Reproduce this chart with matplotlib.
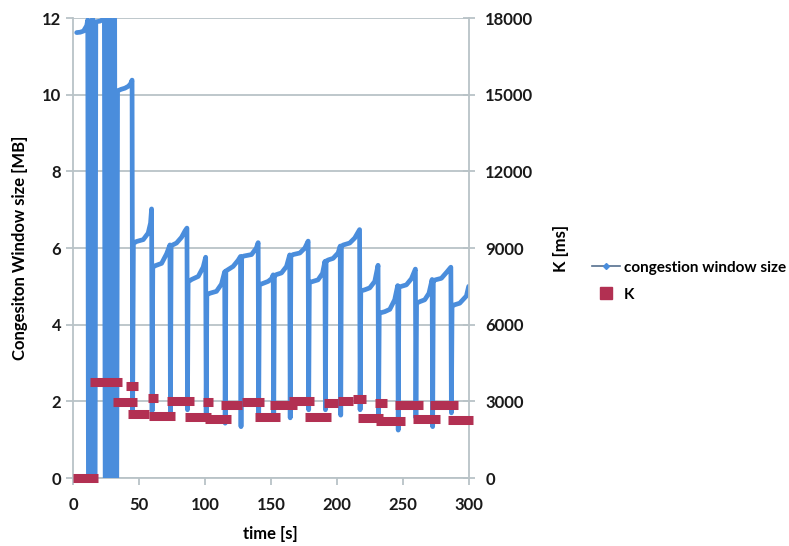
import matplotlib
matplotlib.use("Agg")
import matplotlib.pyplot as plt
from matplotlib.lines import Line2D

plt.rcParams['font.family'] = ['Lato', 'DejaVu Sans']
plt.rcParams['font.weight'] = 'bold'

# congestion window samples: time [s] and size [MB]
cwnd_t = [
    2.8, 5.5, 8.0, 10.4, 11.2, 11.7, 13.0, 13.6, 15.0, 15.6, 16.8, 17.3,
    20.5, 23.8, 24.4, 25.8, 26.4, 27.8, 28.4, 29.8, 30.4, 31.6, 32.1, 33.2,
    33.8, 36.5, 39.4, 42.0, 43.6, 44.8, 45.2,
    45.8, 48.2, 53.3, 57.0, 58.8, 59.6, 60.0,
    60.5, 62.5, 67.2, 71.0, 73.5, 73.9,
    74.4, 78.5, 82.3, 85.0, 86.4, 86.8,
    87.3, 90.0, 95.0, 98.7, 100.6, 101.0,
    101.5, 103.8, 108.8, 112.6, 115.0, 115.4,
    115.9, 117.7, 121.4, 125.2, 127.0, 127.4,
    127.9, 129.5, 135.4, 139.0, 140.4, 140.8,
    141.3, 144.2, 148.0, 150.5, 151.8, 152.2,
    152.7, 154.5, 158.1, 161.9, 164.3, 164.7,
    165.2, 167.0, 172.0, 175.8, 178.3, 178.7,
    179.2, 182.0, 185.8, 189.2, 191.0, 191.4,
    191.9, 193.6, 197.2, 201.0, 202.6, 203.0,
    203.5, 205.0, 209.8, 213.6, 217.3, 217.7,
    218.2, 221.2, 225.0, 228.8, 231.3, 231.7,
    232.2, 236.4, 240.2, 243.9, 246.2, 246.6,
    247.1, 249.0, 252.8, 256.6, 259.6, 260.0,
    260.5, 262.9, 266.7, 269.9, 272.3, 272.7,
    273.2, 274.8, 279.3, 283.6, 286.5, 286.9,
    287.4, 289.4, 293.2, 298.3, 300.0,
]
cwnd_mb = [
    11.62, 11.63, 11.66, 11.8, 11.95, 0.0, 0.0, 11.9, 11.98, 0.0, 0.0, 11.9,
    11.92, 11.98, 0.0, 0.0, 11.95, 12.0, 0.0, 0.0, 11.9, 11.98, 0.0, 0.0,
    10.1, 10.14, 10.17, 10.22, 10.28, 10.38, 1.6,
    6.12, 6.17, 6.22, 6.39, 6.65, 7.02, 1.75,
    5.5, 5.54, 5.6, 5.85, 6.08, 1.7,
    6.06, 6.13, 6.28, 6.45, 6.52, 1.78,
    5.12, 5.18, 5.26, 5.5, 5.76, 1.7,
    4.78, 4.82, 4.87, 5.06, 5.38, 1.43,
    5.40, 5.44, 5.52, 5.68, 5.78, 1.34,
    5.76, 5.79, 5.83, 6.0, 6.14, 1.7,
    5.04, 5.08, 5.13, 5.2, 5.3, 1.57,
    5.28, 5.31, 5.35, 5.52, 5.82, 1.57,
    5.8, 5.83, 5.87, 6.0, 6.18, 1.78,
    5.1, 5.13, 5.17, 5.34, 5.65, 1.78,
    5.66, 5.69, 5.73, 5.87, 6.05, 1.64,
    6.05, 6.08, 6.13, 6.26, 6.48, 1.78,
    4.88, 4.91, 4.96, 5.13, 5.55, 1.6,
    4.3, 4.34, 4.4, 4.65, 5.02, 1.25,
    4.98, 5.0, 5.04, 5.2, 5.45, 1.57,
    4.56, 4.6, 4.65, 4.82, 5.18, 1.34,
    5.14, 5.17, 5.21, 5.38, 5.5, 1.7,
    4.48, 4.52, 4.56, 4.75, 5.0,
]

# K [ms]: runs of constant value, start and end time [s]
k_start = [0, 13, 30.5, 40.5, 42, 57, 58, 71, 85, 98.5, 100, 112, 128, 138,
           149, 164, 176, 190, 201, 212, 216, 229, 230, 244, 258, 270.5, 284]
k_end = [19, 37, 48.7, 49.4, 58, 64.5, 77, 92, 105, 106, 120, 128, 145, 157,
         170, 183, 196, 201, 212, 222, 235, 238, 251.5, 265, 278, 292, 303]
k_ms = [0, 3770, 2990, 3600, 2505, 3150, 2430, 3015, 2370, 2960, 2310, 2870,
        2970, 2370, 2865, 3015, 2370, 2940, 3030, 3100, 2340, 2925, 2235, 2850,
        2310, 2850, 2265]

blue = '#4a8ddc'
red = '#b23052'
grid = '#b9c3c7'

fig = plt.figure(figsize=(7.89, 5.46), dpi=100)
ax = fig.add_axes([0.0925, 0.1245, 0.5015, 0.8425])
ax2 = ax.twinx()

ax.plot(cwnd_t, cwnd_mb, color=blue, lw=3.4, solid_joinstyle='round',
        solid_capstyle='round', zorder=3)
ax2.hlines(k_ms, k_start, k_end, colors=red, lw=6.5, capstyle='butt',
           clip_on=False, zorder=4)

ax.set_xlim(0, 300)
ax.set_ylim(0, 12)
ax2.set_ylim(0, 18000)
ax.set_xticks(range(0, 301, 50))
ax.set_yticks(range(0, 13, 2))
ax2.set_yticks(range(0, 18001, 3000))

ax.yaxis.grid(True, color=grid, lw=1.3)
ax.set_axisbelow(True)
for a in (ax, ax2):
    a.spines['top'].set_visible(False)
    for s in ('left', 'right', 'bottom'):
        a.spines[s].set_color(grid)
        a.spines[s].set_linewidth(1.3)
ax.spines['right'].set_visible(False)
ax2.spines['left'].set_visible(False)
ax2.spines['bottom'].set_visible(False)

ax.tick_params(axis='both', colors=grid, labelcolor='#1a1a1a', labelsize=12,
               length=5, width=1.3)
ax.tick_params(axis='x', pad=9)
ax2.tick_params(axis='y', colors=grid, labelcolor='#1a1a1a', labelsize=12,
                length=8, width=1.3, direction='inout', pad=8)

ax.set_xlabel('time [s]', fontsize=12, fontweight='bold', labelpad=9)
ax.set_ylabel('Congesiton Window size [MB]', fontsize=12, fontweight='bold',
              labelpad=10)
ax2.set_ylabel('K [ms]', fontsize=12, fontweight='bold', labelpad=14)

handles = [
    Line2D([], [], color='#55708f', lw=1.2, marker='D', markersize=3,
           markerfacecolor=blue, markeredgecolor=blue),
    Line2D([], [], color=red, lw=0, marker='s', markersize=8),
]
fig.legend(handles, ['congestion window size', 'K'], loc='upper left',
           bbox_to_anchor=(0.733, 0.548), frameon=False,
           prop={'size': 11, 'weight': 'bold'}, handlelength=1.8,
           handletextpad=0.3, labelspacing=0.85)

fig.savefig('out.png', dpi=100)
